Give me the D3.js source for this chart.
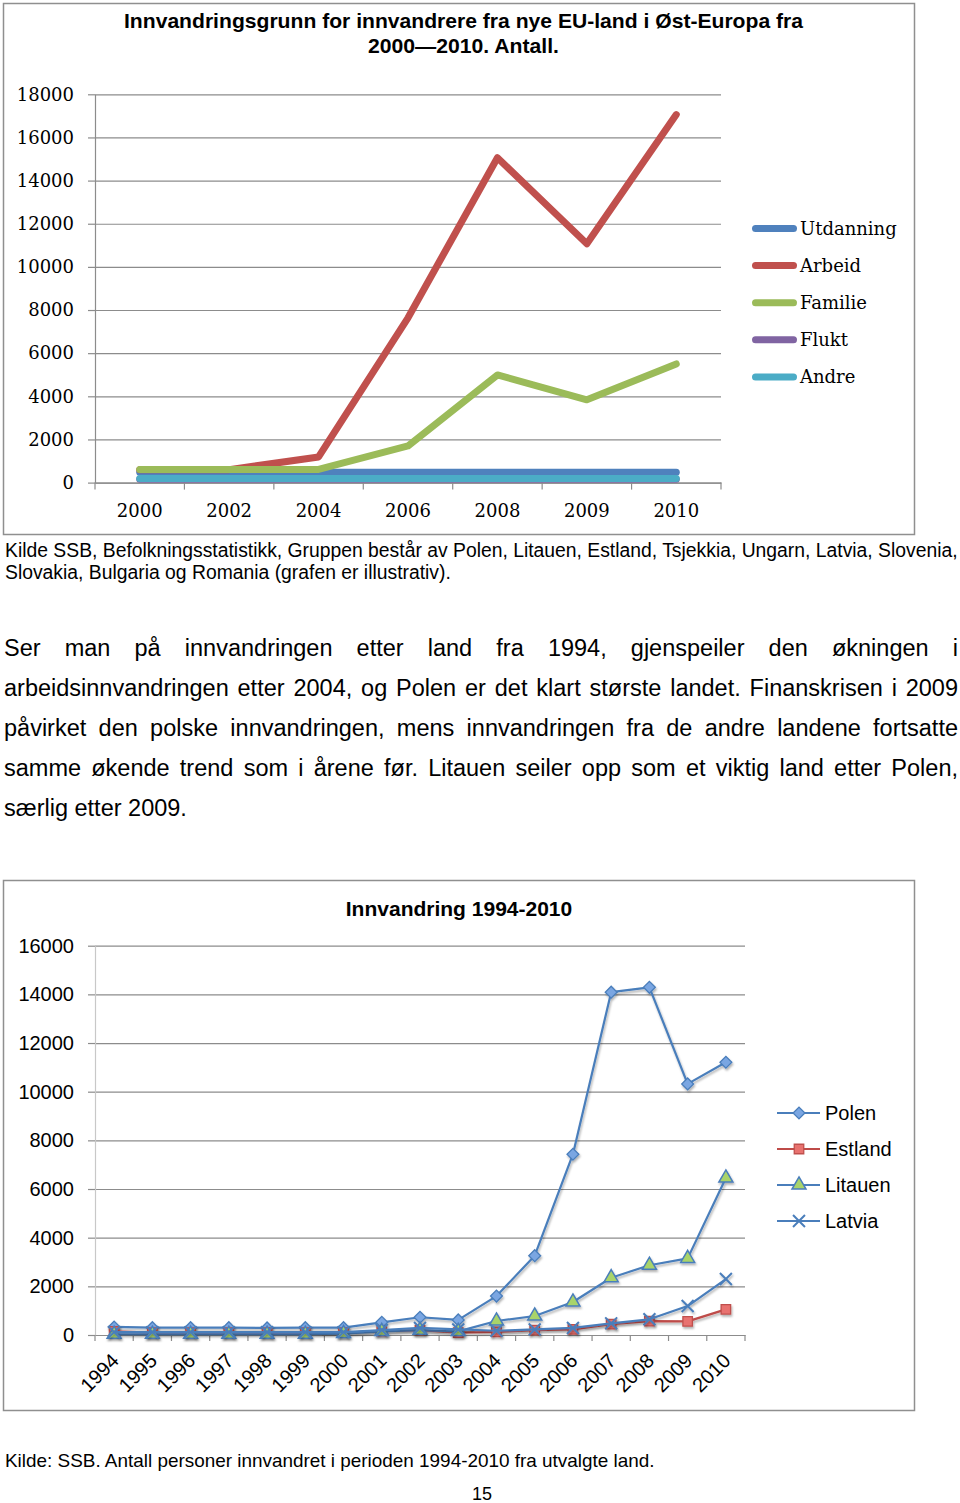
<!DOCTYPE html>
<html>
<head>
<meta charset="utf-8">
<script src="https://cdn.jsdelivr.net/npm/d3@7"></script>
<style>
  body { margin: 0; background: #fff; }
  svg { display: block; }
</style>
</head>
<body>
<script>
// Innvandringsgrunn 2000-2010 (antall)
const grunnYears = ["2000", "2002", "2004", "2006", "2008", "2009", "2010"];
const grunnNames = ["Utdanning", "Arbeid", "Familie", "Flukt", "Andre"];
const utdanning = [480, 480, 480, 480, 480, 480, 480];
const arbeid    = [600, 600, 1190, 7640, 15060, 11070, 17060];
const familie   = [610, 610, 610, 1700, 4990, 3840, 5500];
const flukt     = [150, 150, 150, 150, 150, 150, 150];
const andre     = [190, 190, 190, 190, 190, 190, 190];
const grunnTicks = [0, 2000, 4000, 6000, 8000, 10000, 12000, 14000, 16000, 18000];

// Innvandring 1994-2010 fra utvalgte land
const landYears = ["1994", "1995", "1996", "1997", "1998", "1999", "2000", "2001", "2002",
                   "2003", "2004", "2005", "2006", "2007", "2008", "2009", "2010"];
const landNames = ["Polen", "Estland", "Litauen", "Latvia"];
const polen   = [330, 300, 300, 300, 290, 300, 300, 520, 730, 620, 1600, 3260, 7430, 14090, 14290, 10320, 11210];
const estland = [150, 100, 100, 100, 100, 100, 100, 160, 200, 100, 130, 200, 230, 450, 570, 560, 1055];
const litauen = [30, 30, 30, 30, 30, 30, 60, 150, 200, 150, 575, 780, 1356, 2355, 2865, 3150, 6453];
const latvia  = [120, 120, 120, 120, 120, 120, 120, 205, 290, 230, 175, 230, 290, 480, 645, 1190, 2300];
const landTicks = [0, 2000, 4000, 6000, 8000, 10000, 12000, 14000, 16000];

// page texts
const chart1Title = ["Innvandringsgrunn for innvandrere fra nye EU-land i Øst-Europa fra", "2000\u20142010. Antall."];
const chart1Source = ["Kilde SSB, Befolkningsstatistikk, Gruppen består av Polen, Litauen, Estland, Tsjekkia, Ungarn, Latvia, Slovenia,",
                      "Slovakia, Bulgaria og Romania (grafen er illustrativ)."];
const paragraph = [
    "Ser man på innvandringen etter land fra 1994, gjenspeiler den økningen i",
    "arbeidsinnvandringen etter 2004, og Polen er det klart største landet. Finanskrisen i 2009",
    "påvirket den polske innvandringen, mens innvandringen fra de andre landene fortsatte",
    "samme økende trend som i årene før. Litauen seiler opp som et viktig land etter Polen,",
    "særlig etter 2009."
];
const chart2Title = "Innvandring 1994-2010";
const chart2Source = "Kilde: SSB. Antall personer innvandret i perioden 1994-2010 fra utvalgte land.";
const pageNumber = "15";

const sans = "'Liberation Sans', Arial, sans-serif";
const serif = "'DejaVu Serif', Cambria, serif";
const gridColor = "#8c8c8c";

const svg = d3.select("body").append("svg")
    .attr("width", 960)
    .attr("height", 1503)
    .attr("viewBox", [0, 0, 960, 1503])
    .attr("font-family", sans);

const defs = svg.append("defs");
defs.append("filter")
    .attr("id", "shadow")
    .attr("x", "-20%").attr("y", "-20%").attr("width", "140%").attr("height", "140%")
  .append("feDropShadow")
    .attr("dx", 1).attr("dy", 2).attr("stdDeviation", 1.2)
    .attr("flood-color", "#000").attr("flood-opacity", 0.3);

// scale a text's font size so that it spans the given width
function fitText(sel, width) {
    const w = sel.node().getComputedTextLength();
    const s = parseFloat(sel.attr("font-size"));
    sel.attr("font-size", s * width / w);
    return s * width / w;
}

// a justified line, word by word
function justifyLine(g, text, x0, x1, y, size, last) {
    const words = text.split(" ");
    const t = g.append("g").attr("font-size", size).attr("fill", "#000");
    const nodes = words.map(w => t.append("text").attr("y", y).text(w));
    const widths = nodes.map(n => n.node().getComputedTextLength());
    const gap = last ? size * 0.278 : (x1 - x0 - d3.sum(widths)) / (words.length - 1);
    let x = x0;
    nodes.forEach((n, i) => { n.attr("x", x); x += widths[i] + gap; });
}

// ---------------- chart 1 ----------------
{
    const x = d3.scaleBand(grunnYears, [95, 721]);
    const y = d3.scaleLinear([0, 18000], [482.6, 94.3]);
    const color = d3.scaleOrdinal(grunnNames, ["#4f81bd", "#c0504d", "#9bbb59", "#8064a2", "#4bacc6"]);
    const series = [utdanning, arbeid, familie, flukt, andre];

    svg.append("rect")
        .attr("x", 3.5).attr("y", 3.5)
        .attr("width", 911).attr("height", 531)
        .attr("fill", "none")
        .attr("stroke", "#8f8f8f")
        .attr("stroke-width", 1.5);

    const title = svg.append("g")
        .attr("font-weight", "bold")
        .attr("text-anchor", "middle")
        .attr("font-size", 20.5);
    title.append("text").attr("x", 463.5).attr("y", 28.3)
        .attr("textLength", 679).attr("lengthAdjust", "spacingAndGlyphs")
        .text(chart1Title[0]);
    title.append("text").attr("x", 463.5).attr("y", 52.6)
        .attr("textLength", 191).attr("lengthAdjust", "spacingAndGlyphs")
        .text(chart1Title[1]);

    // grid
    svg.append("g")
        .attr("transform", "translate(95,0)")
        .call(d3.axisLeft(y).tickValues(grunnTicks).tickSize(-(721 - 95)).tickFormat(""))
        .call(g => g.select(".domain").remove())
        .call(g => g.selectAll(".tick line").attr("stroke", gridColor).attr("stroke-width", 1.2));

    // y axis
    svg.append("g")
        .attr("transform", "translate(95,0)")
        .call(d3.axisLeft(y).tickValues(grunnTicks).tickSize(7).tickSizeOuter(0).tickPadding(14).tickFormat(d3.format("d")))
        .call(g => g.select(".domain").attr("stroke", gridColor).attr("stroke-width", 1.2))
        .call(g => g.selectAll(".tick line").attr("stroke", gridColor).attr("stroke-width", 1.2))
        .call(g => g.selectAll(".tick text")
            .attr("font-family", serif)
            .attr("font-size", 18)
            .attr("fill", "#000"));

    // x axis
    svg.append("g")
        .attr("transform", `translate(0,${y(0)})`)
        .call(d3.axisBottom(x).tickSize(0).tickSizeOuter(0).tickPadding(21.6))
        .call(g => g.select(".domain").attr("stroke", gridColor).attr("stroke-width", 1.2))
        .call(g => g.selectAll(".tick text")
            .attr("font-family", serif)
            .attr("font-size", 18)
            .attr("fill", "#000"));

    svg.append("g")
        .attr("stroke", gridColor)
        .attr("stroke-width", 1.2)
      .selectAll("line")
      .data(d3.range(grunnYears.length + 1))
      .join("line")
        .attr("x1", i => x.range()[0] + i * x.step())
        .attr("x2", i => x.range()[0] + i * x.step())
        .attr("y1", y(0))
        .attr("y2", y(0) + 7);

    const line = d3.line()
        .x((d, i) => x(grunnYears[i]) + x.bandwidth() / 2)
        .y(d => y(d));

    svg.append("g")
        .attr("fill", "none")
        .attr("stroke-width", 7)
        .attr("stroke-linecap", "round")
        .attr("stroke-linejoin", "round")
      .selectAll("path")
      .data(series)
      .join("path")
        .attr("stroke", (d, i) => color(grunnNames[i]))
        .attr("d", line);

    // legend
    const legend = svg.append("g")
      .selectAll("g")
      .data(grunnNames)
      .join("g")
        .attr("transform", (d, i) => `translate(752,${228.5 + i * 37.1})`);
    legend.append("line")
        .attr("x1", 3.5).attr("x2", 41.5)
        .attr("stroke", d => color(d))
        .attr("stroke-width", 7)
        .attr("stroke-linecap", "round");
    legend.append("text")
        .attr("x", 48)
        .attr("dy", "0.36em")
        .attr("font-family", serif)
        .attr("font-size", 18)
        .text(d => d);

    // source under chart
    const src = svg.append("g").attr("fill", "#000");
    const s1 = src.append("text").attr("x", 5).attr("y", 557).attr("font-size", 17).text(chart1Source[0]);
    const fs = fitText(s1, 953);
    src.append("text").attr("x", 5).attr("y", 579).attr("font-size", fs).text(chart1Source[1]);
}

// ---------------- paragraph ----------------
{
    const g = svg.append("g");
    paragraph.forEach((t, i) => justifyLine(g, t, 4, 958, 656 + i * 40, 23.5, i === paragraph.length - 1));
}

// ---------------- chart 2 ----------------
{
    const x = d3.scaleBand(landYears, [95, 745]);
    const y = d3.scaleLinear([0, 16000], [1335, 945.7]);
    const series = [polen, estland, litauen, latvia];
    const lineColor = d3.scaleOrdinal(landNames, ["#4a7ebb", "#be4b48", "#4a7ebb", "#4a7ebb"]);
    const symX = d3.symbolX || d3.symbolCross;
    const marker = {
        Polen:   { type: d3.symbolSquare, size: 70, rotate: 45, fill: "#7aa6e2", stroke: "#4a7ebb", width: 1.3 },
        Estland: { type: d3.symbolSquare, size: 90, rotate: 0, fill: "#e8726f", stroke: "#c0504d", width: 1.3 },
        Litauen: { type: d3.symbolTriangle, size: 85, rotate: 0, fill: "#a9d46a", stroke: "#4a7ebb", width: 1.5 },
        Latvia:  { type: symX, size: 95, rotate: d3.symbolX ? 0 : 45, fill: "none", stroke: "#4a7ebb", width: 2 }
    };

    svg.append("rect")
        .attr("x", 3.5).attr("y", 880.5)
        .attr("width", 911).attr("height", 530)
        .attr("fill", "none")
        .attr("stroke", "#8f8f8f")
        .attr("stroke-width", 1.5);

    svg.append("text")
        .attr("x", 459).attr("y", 916)
        .attr("text-anchor", "middle")
        .attr("font-weight", "bold")
        .attr("font-size", 21)
        .text(chart2Title);

    svg.append("g")
        .attr("transform", "translate(95,0)")
        .call(d3.axisLeft(y).tickValues(landTicks.slice(1)).tickSize(-(745 - 95)).tickFormat(""))
        .call(g => g.select(".domain").remove())
        .call(g => g.selectAll(".tick line").attr("stroke", gridColor).attr("stroke-width", 1.2));

    svg.append("g")
        .attr("transform", "translate(95,0)")
        .call(d3.axisLeft(y).tickValues(landTicks).tickSize(7).tickSizeOuter(0).tickPadding(14).tickFormat(d3.format("d")))
        .call(g => g.select(".domain").attr("stroke", "#c8c8c8").attr("stroke-width", 1.2))
        .call(g => g.selectAll(".tick line").attr("stroke", gridColor).attr("stroke-width", 1.2))
        .call(g => g.selectAll(".tick text").attr("font-size", 20).attr("fill", "#000"));

    svg.append("g")
        .attr("transform", `translate(0,${y(0)})`)
        .call(d3.axisBottom(x).tickSize(0).tickSizeOuter(0).tickFormat(""))
        .call(g => g.select(".domain").attr("stroke", gridColor).attr("stroke-width", 1.2));

    svg.append("g")
        .attr("stroke", gridColor)
        .attr("stroke-width", 1.2)
      .selectAll("line")
      .data(d3.range(landYears.length + 1))
      .join("line")
        .attr("x1", i => x.range()[0] + i * x.step())
        .attr("x2", i => x.range()[0] + i * x.step())
        .attr("y1", y(0))
        .attr("y2", y(0) + 6);

    svg.append("g")
        .attr("font-size", 20)
        .attr("text-anchor", "end")
      .selectAll("text")
      .data(landYears)
      .join("text")
        .attr("transform", d => `translate(${x(d) + x.bandwidth() / 2 + 6},${y(0) + 27}) rotate(-45)`)
        .text(d => d);

    const line = d3.line()
        .x((d, i) => x(landYears[i]) + x.bandwidth() / 2)
        .y(d => y(d));

    const sym = name => d3.symbol(marker[name].type, marker[name].size)();

    const sg = svg.append("g")
      .selectAll("g")
      .data(series)
      .join("g")
        .attr("filter", "url(#shadow)");

    sg.append("path")
        .attr("fill", "none")
        .attr("stroke", (d, i) => lineColor(landNames[i]))
        .attr("stroke-width", 2.2)
        .attr("stroke-linejoin", "round")
        .attr("d", line);

    sg.each(function(values, si) {
        const m = marker[landNames[si]];
        d3.select(this).selectAll(".m")
          .data(values)
          .join("path")
            .attr("class", "m")
            .attr("transform", (d, i) => `translate(${x(landYears[i]) + x.bandwidth() / 2},${y(d)}) rotate(${m.rotate})`)
            .attr("d", sym(landNames[si]))
            .attr("fill", m.fill)
            .attr("stroke", m.stroke)
            .attr("stroke-width", m.width);
    });

    // legend
    const legend = svg.append("g")
      .selectAll("g")
      .data(landNames)
      .join("g")
        .attr("transform", (d, i) => `translate(777,${1113 + i * 36})`);
    legend.append("line")
        .attr("x1", 0).attr("x2", 43)
        .attr("stroke", d => lineColor(d))
        .attr("stroke-width", 2.2);
    legend.append("path")
        .attr("transform", d => `translate(22,0) rotate(${marker[d].rotate})`)
        .attr("d", d => sym(d))
        .attr("fill", d => marker[d].fill)
        .attr("stroke", d => marker[d].stroke)
        .attr("stroke-width", d => marker[d].width);
    legend.append("text")
        .attr("x", 48)
        .attr("dy", "0.36em")
        .attr("font-size", 20)
        .text(d => d);

    const src = svg.append("text").attr("x", 5).attr("y", 1467).attr("font-size", 18).text(chart2Source);
    fitText(src, 650);
    svg.append("text")
        .attr("x", 482).attr("y", 1500)
        .attr("text-anchor", "middle")
        .attr("font-size", 18)
        .text(pageNumber);
}
</script>
</body>
</html>
